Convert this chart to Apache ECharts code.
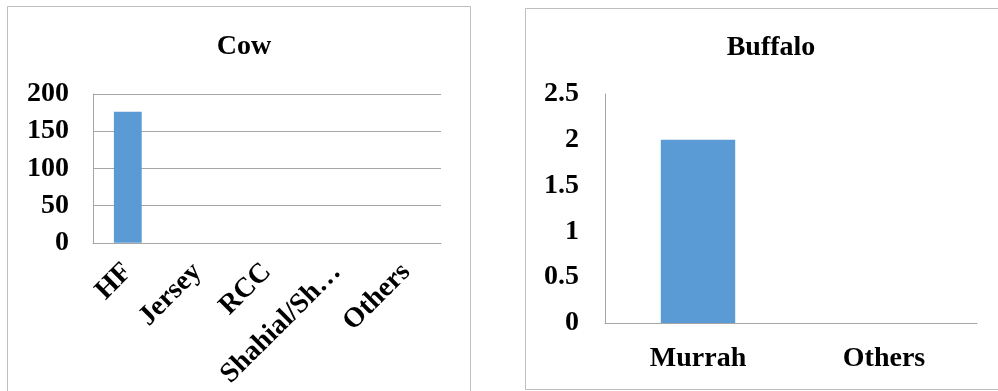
<!DOCTYPE html>
<html>
<head>
<meta charset="utf-8">
<script src="https://cdn.jsdelivr.net/npm/echarts@6/dist/echarts.min.js"></script>
<style>
  html, body { margin: 0; padding: 0; background: #ffffff; }
  #chart { width: 998px; height: 391px; }
</style>
</head>
<body>
<div id="chart"></div>
<script>
// Cow breeds
const cowBreeds = ['HF', 'Jersey', 'RCC', 'Shahial/Sh…', 'Others'];
const cowCounts = [176, 0, 0, 0, 0];
const cowTicks = [0, 50, 100, 150, 200];

// Buffalo breeds
const buffaloBreeds = ['Murrah', 'Others'];
const buffaloCounts = [2, 0];
const buffaloTicks = [0, 0.5, 1, 1.5, 2, 2.5];

const FONT = '"Liberation Serif", "Times New Roman", serif';
const BAR = '#5b9bd5';
const GRID_LINE = '#a6a6a6';
const FRAME = '#bfbfbf';

const textStyle = { fontFamily: FONT, fontWeight: 'bold', fontSize: 28, color: '#000' };

const chart = echarts.init(document.getElementById('chart'), null, { renderer: 'canvas' });

chart.setOption({
  backgroundColor: '#ffffff',
  animation: false,
  graphic: [
    { type: 'rect', shape: { x: 7.5, y: 6.5, width: 463, height: 400 },
      style: { fill: 'none', stroke: FRAME, lineWidth: 1 }, z: 0 },
    { type: 'rect', shape: { x: 525.5, y: 8.5, width: 480, height: 381 },
      style: { fill: 'none', stroke: FRAME, lineWidth: 1 }, z: 0 }
  ],
  title: [
    { text: 'Cow', left: 239, top: 42, textAlign: 'center', textVerticalAlign: 'middle',
      textStyle: Object.assign({}, textStyle) },
    { text: 'Buffalo', left: 766, top: 43, textAlign: 'center', textVerticalAlign: 'middle',
      textStyle: Object.assign({}, textStyle) }
  ],
  grid: [
    { left: 93, right: 557, top: 94, bottom: 147 },
    { left: 605, right: 21, top: 94, bottom: 68 }
  ],
  xAxis: [
    {
      type: 'category', gridIndex: 0, data: cowBreeds,
      axisLine: { show: true, lineStyle: { color: GRID_LINE, width: 1 } },
      axisTick: { show: false },
      axisLabel: Object.assign({ rotate: 45, margin: 25, interval: 0 }, textStyle)
    },
    {
      type: 'category', gridIndex: 1, data: buffaloBreeds,
      axisLine: { show: true, lineStyle: { color: GRID_LINE, width: 1 } },
      axisTick: { show: false },
      axisLabel: Object.assign({ margin: 22, interval: 0 }, textStyle)
    }
  ],
  yAxis: [
    {
      type: 'value', gridIndex: 0, min: cowTicks[0], max: cowTicks[cowTicks.length - 1],
      interval: cowTicks[1] - cowTicks[0],
      axisLine: { show: true, lineStyle: { color: GRID_LINE, width: 1 } },
      axisTick: { show: false },
      splitLine: { show: true, lineStyle: { color: GRID_LINE, width: 1 } },
      axisLabel: Object.assign({ margin: 24 }, textStyle)
    },
    {
      type: 'value', gridIndex: 1, min: buffaloTicks[0], max: buffaloTicks[buffaloTicks.length - 1],
      interval: buffaloTicks[1] - buffaloTicks[0],
      axisLine: { show: true, lineStyle: { color: GRID_LINE, width: 1 } },
      axisTick: { show: false },
      splitLine: { show: false },
      axisLabel: Object.assign({ margin: 26 }, textStyle)
    }
  ],
  series: [
    { type: 'bar', xAxisIndex: 0, yAxisIndex: 0, data: cowCounts, barWidth: '40%',
      itemStyle: { color: BAR } },
    { type: 'bar', xAxisIndex: 1, yAxisIndex: 1, data: buffaloCounts, barWidth: '40%',
      itemStyle: { color: BAR } }
  ]
});
</script>
</body>
</html>
